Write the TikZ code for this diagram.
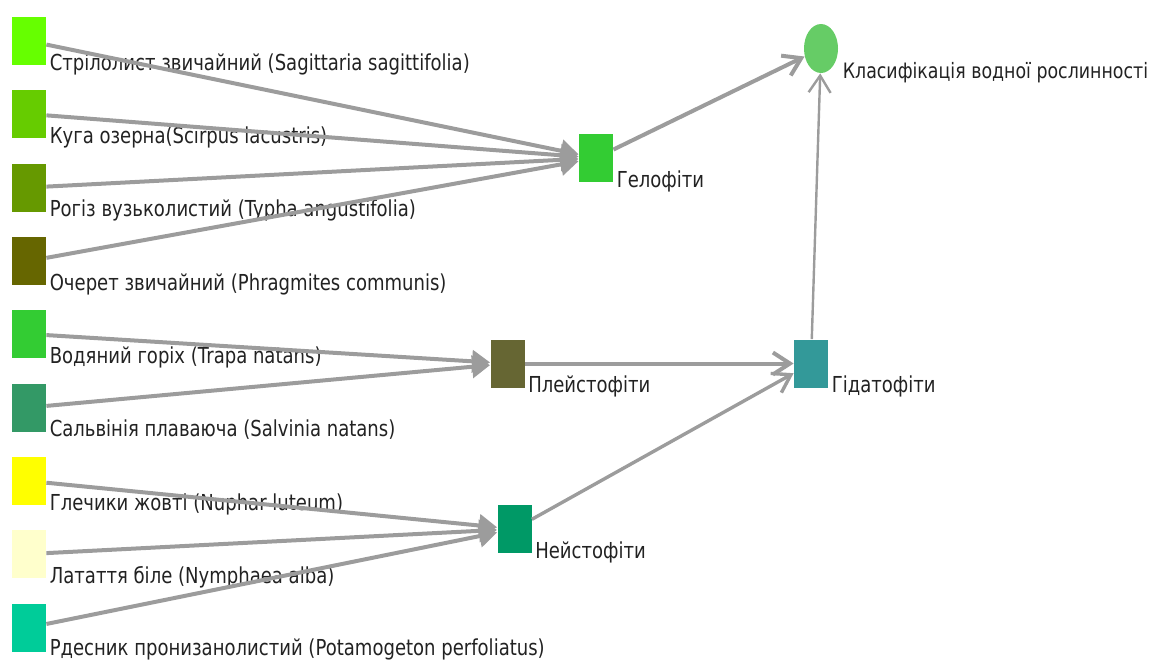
\documentclass[tikz,border=0pt]{standalone}
\usepackage{fontspec}
\setmainfont[FakeStretch=0.82]{DejaVu Sans}
\usetikzlibrary{arrows.meta,shapes.geometric}

\definecolor{edgegray}{HTML}{9C9C9C}
\definecolor{labeltext}{HTML}{222222}
\definecolor{cSag}{HTML}{66FF00}
\definecolor{cSci}{HTML}{66CC00}
\definecolor{cTyp}{HTML}{669900}
\definecolor{cPhr}{HTML}{666600}
\definecolor{cTra}{HTML}{33CC33}
\definecolor{cSal}{HTML}{339966}
\definecolor{cNup}{HTML}{FFFF00}
\definecolor{cNym}{HTML}{FFFFCC}
\definecolor{cPot}{HTML}{00CC99}
\definecolor{cHelo}{HTML}{33CC33}
\definecolor{cPleis}{HTML}{666633}
\definecolor{cNeis}{HTML}{009966}
\definecolor{cHyda}{HTML}{339999}
\definecolor{cRoot}{HTML}{66CC66}

\tikzset{
  sq/.style={fill=#1, minimum width=17pt, minimum height=24pt, inner sep=0pt},
  tag/.style={anchor=base west, inner sep=0pt, xshift=1.5pt, yshift=-2.5pt,
    text=labeltext, font=\fontsize{11}{13}\selectfont},
  feed/.style={draw=edgegray, line width=2pt, -{Triangle[length=9pt, width=11pt]}},
  link/.style={draw=edgegray, line width=#1, -{Straight Barb[length=8.5pt, width=11pt]}},
  link/.default=2pt
}

\begin{document}
\begin{tikzpicture}[x=0.5pt, y=-0.5pt]
  \useasboundingbox (0,0) rectangle (1155,659);

  % species
  \node[sq=cSag] (p1) at (29,41) {};
  \node[sq=cSci] (p2) at (29,114) {};
  \node[sq=cTyp] (p3) at (29,187.5) {};
  \node[sq=cPhr] (p4) at (29,261) {};
  \node[sq=cTra] (p5) at (29,334) {};
  \node[sq=cSal] (p6) at (29,407.5) {};
  \node[sq=cNup] (p7) at (29,481) {};
  \node[sq=cNym] (p8) at (29,554) {};
  \node[sq=cPot] (p9) at (29,627.5) {};

  % groups
  \node[sq=cHelo] (helo) at (596,158) {};
  \node[sq=cPleis] (pleis) at (507.5,363.5) {};
  \node[sq=cNeis] (neis) at (514.5,529) {};
  \node[sq=cHyda] (hyda) at (811,363.5) {};
  \node[ellipse, fill=cRoot, minimum width=17pt, minimum height=24.5pt, inner sep=0pt] (root) at (821,48.5) {};

  % labels
  \node[tag] (t1) at (p1.south east) {Стрілолист звичайний (Sagittaria sagittifolia)};
  \node[tag] (t2) at (p2.south east) {Куга озерна(Scirpus lacustris)};
  \node[tag] (t3) at (p3.south east) {Рогіз вузьколистий (Typha angustifolia)};
  \node[tag] (t4) at (p4.south east) {Очерет звичайний (Phragmites communis)};
  \node[tag] (t5) at (p5.south east) {Водяний горіх (Trapa natans)};
  \node[tag] (t6) at (p6.south east) {Сальвінія плаваюча (Salvinia natans)};
  \node[tag] (t7) at (p7.south east) {Глечики жовті (Nuphar luteum)};
  \node[tag] (t8) at (p8.south east) {Латаття біле (Nymphaea alba)};
  \node[tag, yshift=0.5pt] (t9) at (p9.south east) {Рдесник пронизанолистий (Potamogeton perfoliatus)};
  \node[tag] (thelo) at (helo.south east) {Гелофіти};
  \node[tag] (tpleis) at (pleis.south east) {Плейстофіти};
  \node[tag] (tneis) at (neis.south east) {Нейстофіти};
  \node[tag] (thyda) at (hyda.south east) {Гідатофіти};
  \node[tag, xshift=0.5pt, font=\fontsize{10.6}{13}\selectfont] (troot) at (root.south -| root.east) {Класифікація водної рослинності};

  % edges
  \foreach \i in {1,...,4}
    \draw[feed] (p\i) -- (helo);
  \foreach \i in {5,6}
    \draw[feed] (p\i) -- (pleis);
  \foreach \i in {7,8,9}
    \draw[feed] (p\i) -- (neis);
  \draw[link] (helo) -- (root);
  \draw[link] (pleis) -- (hyda);
  \draw[link=1.7pt] (neis) -- (hyda);
  \draw[link=1.2pt] (hyda) -- (root);
\end{tikzpicture}
\end{document}
